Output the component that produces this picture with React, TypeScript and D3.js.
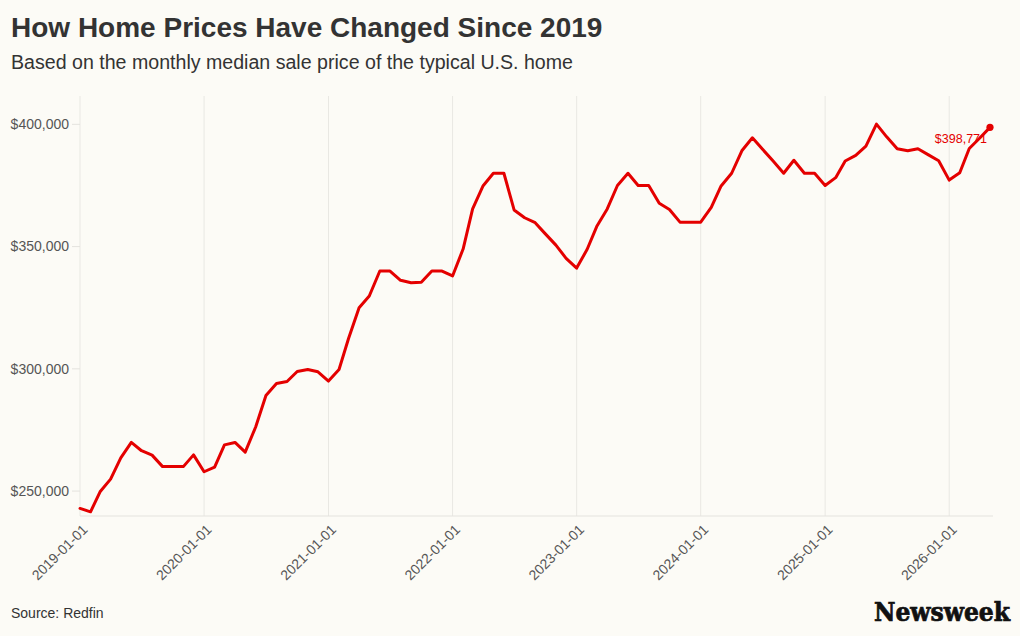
import React, { useEffect } from 'react';
import * as d3 from 'd3';

const title = 'How Home Prices Have Changed Since 2019';
const subtitle = 'Based on the monthly median sale price of the typical U.S. home';
const source = 'Source: Redfin';
const brand = 'Newsweek';

const dates = [
  '2019-01-01','2019-02-01','2019-03-01','2019-04-01','2019-05-01','2019-06-01','2019-07-01','2019-08-01','2019-09-01','2019-10-01','2019-11-01','2019-12-01',
  '2020-01-01','2020-02-01','2020-03-01','2020-04-01','2020-05-01','2020-06-01','2020-07-01','2020-08-01','2020-09-01','2020-10-01','2020-11-01','2020-12-01',
  '2021-01-01','2021-02-01','2021-03-01','2021-04-01','2021-05-01','2021-06-01','2021-07-01','2021-08-01','2021-09-01','2021-10-01','2021-11-01','2021-12-01',
  '2022-01-01','2022-02-01','2022-03-01','2022-04-01','2022-05-01','2022-06-01','2022-07-01','2022-08-01','2022-09-01','2022-10-01','2022-11-01','2022-12-01',
  '2023-01-01','2023-02-01','2023-03-01','2023-04-01','2023-05-01','2023-06-01','2023-07-01','2023-08-01','2023-09-01','2023-10-01','2023-11-01','2023-12-01',
  '2024-01-01','2024-02-01','2024-03-01','2024-04-01','2024-05-01','2024-06-01','2024-07-01','2024-08-01','2024-09-01','2024-10-01','2024-11-01','2024-12-01',
  '2025-01-01','2025-02-01','2025-03-01','2025-04-01','2025-05-01','2025-06-01','2025-07-01','2025-08-01','2025-09-01','2025-10-01','2025-11-01','2025-12-01',
  '2026-01-01','2026-02-01','2026-03-01','2026-04-01','2026-05-01',
];

const prices = [
  242900, 241500, 249700, 254900, 263600, 269900, 266500, 264700, 260000, 260000, 260000, 264800,
  257900, 259800, 268900, 269900, 265900, 276300, 289100, 294000, 294800, 298900, 299700, 298800,
  295000, 299700, 312400, 325000, 329800, 340000, 340000, 336200, 335200, 335400, 340000, 340000,
  338000, 349000, 365400, 374900, 380000, 380000, 365000, 361800, 359800, 355200, 350600, 345200,
  341200, 348900, 358200, 365400, 375000, 380000, 375000, 375000, 367700, 365200, 360000, 360000,
  360000, 366000, 374800, 380000, 389200, 394500, 389800, 385000, 380000, 385300, 380000, 380000,
  375000, 378200, 385000, 387300, 391100, 400100, 394900, 390000, 389200, 390000, 387500, 385100,
  377200, 380200, 390100, 394400, 398771,
];

const yTicks = [250000, 300000, 350000, 400000];
const xTicks = ['2019-01-01','2020-01-01','2021-01-01','2022-01-01','2023-01-01','2024-01-01','2025-01-01','2026-01-01'];

const W = 1020;
const H = 636;
const FONT = '"Liberation Sans", Arial, Helvetica, sans-serif';

export default function App() {
  useEffect(() => {
    document.body.style.margin = '0';
    document.body.style.background = '#fcfbf6';
  }, []);

  const parse = d3.utcParse('%Y-%m-%d');
  const data = dates.map((d, i) => ({ date: parse(d) as Date, value: prices[i] }));

  const left = 80, right = 990, top = 96, bottom = 516;
  const x = d3.scaleUtc().domain([parse(dates[0]) as Date, parse(dates[dates.length - 1]) as Date]).range([left, right]);
  const y = d3.scaleLinear().domain([239800, 411600]).range([bottom, top]);

  const line = d3.line<{ date: Date; value: number }>()
    .x(d => x(d.date))
    .y(d => y(d.value));

  const last = data[data.length - 1];
  const fmt = d3.format('$,.0f');

  return (
    <svg width={W} height={H} style={{ position: 'absolute', left: 0, top: 0, background: '#fcfbf6', fontFamily: FONT }}>
      <rect x={0} y={0} width={W} height={H} fill="#fcfbf6" />
      <text x={11} y={37} fontSize={28} fontWeight="bold" fill="#333">{title}</text>
      <text x={11} y={69} fontSize={19.6} fill="#333">{subtitle}</text>

      {xTicks.map(t => {
        const xx = x(parse(t) as Date);
        return <line key={'g' + t} x1={xx} x2={xx} y1={top} y2={bottom} stroke="#e9e8e3" strokeWidth={1} />;
      })}
      <line x1={left} x2={993} y1={bottom} y2={bottom} stroke="#e4e3de" strokeWidth={1} />

      {yTicks.map(t => (
        <g key={'y' + t}>
          <line x1={72} x2={left} y1={y(t)} y2={y(t)} stroke="#e4e3de" />
          <text x={69} y={y(t)} dy="0.35em" textAnchor="end" fontSize={14} fill="#555">{fmt(t)}</text>
        </g>
      ))}

      {xTicks.map(t => {
        const xx = x(parse(t) as Date);
        return (
          <text key={'x' + t} transform={`translate(${xx + 5},${bottom + 11}) rotate(-45)`} textAnchor="end" dy="0.35em" fontSize={14} fill="#555">{t}</text>
        );
      })}

      <path d={line(data) as string} fill="none" stroke="#e40000" strokeWidth={3} strokeLinejoin="round" strokeLinecap="round" />
      <circle cx={x(last.date)} cy={y(last.value)} r={3.6} fill="#e40000" />
      <text x={x(last.date) - 3} y={y(last.value) + 16} textAnchor="end" fontSize={12.5} fill="#e40000">{fmt(last.value)}</text>

      <text x={11} y={618} fontSize={14} fill="#333">{source}</text>
      <text x={1010} y={621} textAnchor="end" fontSize={26} fontWeight="bold" fill="#111" stroke="#111" strokeWidth={0.7}
        style={{ fontFamily: '"DejaVu Serif", serif', fontStretch: 'condensed' }}
        textLength={136} lengthAdjust="spacingAndGlyphs">{brand}</text>
    </svg>
  );
}
